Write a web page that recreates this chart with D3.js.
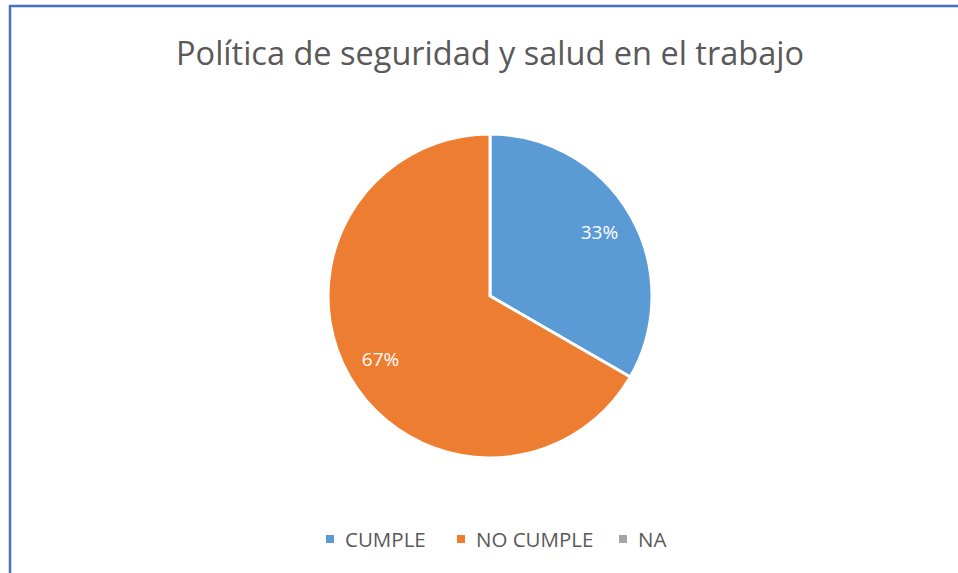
<!DOCTYPE html>
<html lang="es">
<head>
<meta charset="utf-8">
<script src="https://cdnjs.cloudflare.com/ajax/libs/d3/7.8.5/d3.min.js"></script>
<style>
  body { margin: 0; background: #fff; }
  svg { display: block; font-family: "Open Sans", "Noto Sans", sans-serif; }
</style>
</head>
<body>
<svg id="chart" width="958" height="573"></svg>
<script>
// datos del grafico
var categorias = ["CUMPLE", "NO CUMPLE", "NA"];
var valores = [1, 2, 0];
var colores = ["#5B9BD5", "#ED7D31", "#A5A5A5"];

var svg = d3.select("#chart");
var W = 958, H = 573;

svg.append("rect").attr("width", W).attr("height", H).attr("fill", "#fff");

// borde
svg.append("path")
  .attr("d", "M10,573 V6 H958")
  .attr("fill", "none")
  .attr("stroke", "#4472C4")
  .attr("stroke-width", 2.5);

// titulo
svg.append("text")
  .attr("x", 490).attr("y", 65)
  .attr("text-anchor", "middle")
  .attr("fill", "#595959")
  .style("font-size", "32.5px")
  .text("Política de seguridad y salud en el trabajo");

var r = 162;
var pie = d3.pie().sort(null).value(d => d.v);
var datos = categorias.map((c, i) => ({ c: c, v: valores[i], col: colores[i] }));
var arcos = pie(datos);
var total = d3.sum(valores);

var arc = d3.arc().innerRadius(0).outerRadius(r);
var arcLabel = d3.arc().innerRadius(r * 0.78).outerRadius(r * 0.78);

var g = svg.append("g").attr("transform", "translate(490,296)");
g.selectAll("path")
  .data(arcos.filter(d => d.value > 0))
  .enter()
  .append("path")
  .attr("d", arc)
  .attr("fill", d => d.data.col)
  .attr("stroke", "#fff")
  .attr("stroke-width", 3);

g.selectAll("text")
  .data(arcos.filter(d => d.value > 0))
  .enter()
  .append("text")
  .attr("transform", d => "translate(" + arcLabel.centroid(d) + ")")
  .attr("text-anchor", "middle")
  .attr("dy", "0.35em")
  .attr("fill", "#fff")
  .style("font-size", "19px")
  .text(d => Math.round(d.value / total * 100) + "%");

// leyenda
var leyX = [326, 457, 619];
var ley = svg.append("g");
categorias.forEach(function (c, i) {
  ley.append("rect")
    .attr("x", leyX[i]).attr("y", 535)
    .attr("width", 8).attr("height", 8)
    .attr("fill", colores[i]);
  ley.append("text")
    .attr("x", leyX[i] + 19).attr("y", 547)
    .attr("fill", "#595959")
    .style("font-size", "20.5px")
    .text(c);
});
</script>
</body>
</html>
